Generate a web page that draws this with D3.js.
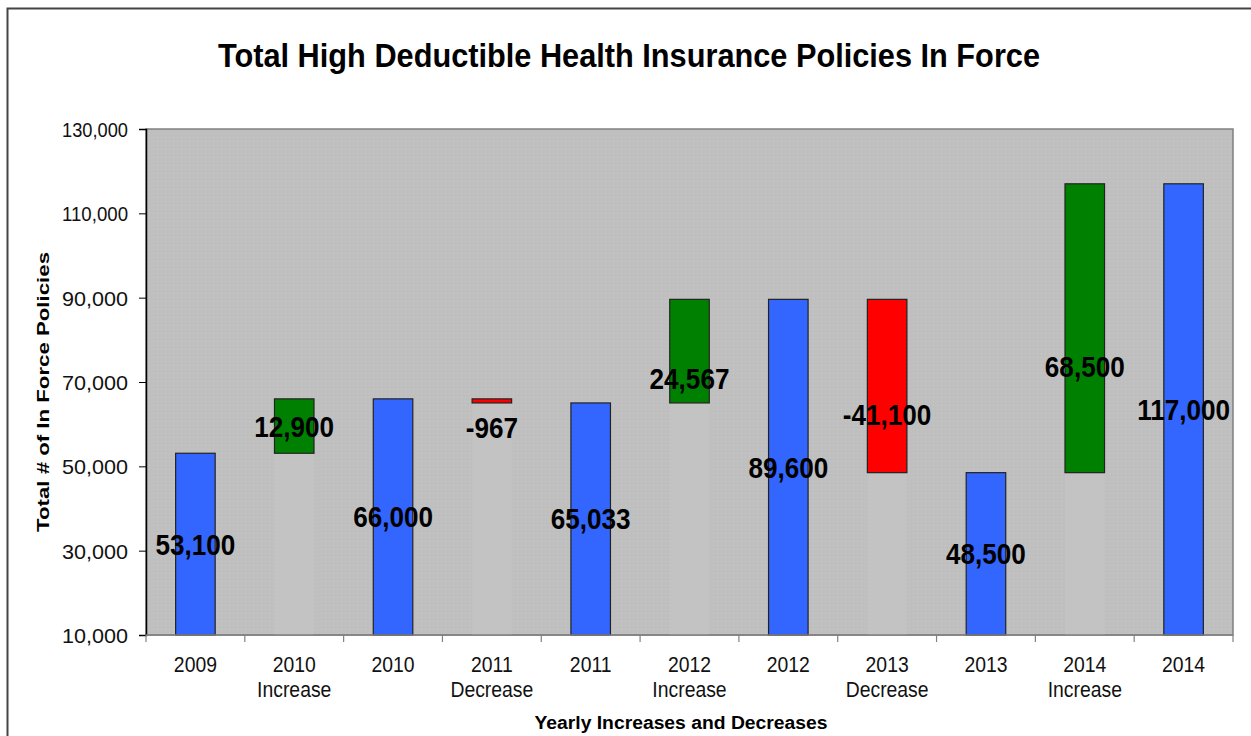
<!DOCTYPE html>
<html><head><meta charset="utf-8">
<script src="https://cdn.jsdelivr.net/npm/d3@7"></script>
<style>body{margin:0;background:#fff}svg{display:block}</style>
</head><body>
<svg id="c" width="1251" height="736"></svg>
<script>
const categories = ["2009","2010\nIncrease","2010","2011\nDecrease","2011","2012\nIncrease","2012","2013\nDecrease","2013","2014\nIncrease","2014"];
const kinds = ["total","increase","total","decrease","total","increase","total","decrease","total","increase","total"];
const baseValues = [0,53100,0,65033,0,65033,0,48500,0,48500,0];
const barValues = [53100,12900,66000,967,65033,24567,89600,41100,48500,68500,117000];
const labels = ["53,100","12,900","66,000","-967","65,033","24,567","89,600","-41,100","48,500","68,500","117,000"];
const labelAt = [31550,59550,38000,59100,37500,70900,49800,62200,29250,73600,63500];
const yTicks = [10000,30000,50000,70000,90000,110000,130000];

const svg = d3.select("#c");
const m = {l:146, t:129, r:1233, b:635};
const x = d3.scaleBand().domain(d3.range(categories.length)).range([m.l, m.r]).paddingInner(0.6).paddingOuter(0.3);
const xb = d3.scaleBand().domain(d3.range(categories.length)).range([m.l, m.r]);
const y = d3.scaleLinear().domain([10000,130000]).range([m.b, m.t]);
const colors = {total:"#3366ff", increase:"#008000", decrease:"#ff0000"};
const FONT = "Liberation Sans, Arial, sans-serif";

function condense(sel, f){
  sel.each(function(){
    const w = this.getComputedTextLength();
    d3.select(this).attr("textLength", w*f).attr("lengthAdjust","spacingAndGlyphs");
  });
}

// outer border
svg.append("rect").attr("x",7.5).attr("y",8.5).attr("width",1260).attr("height",760)
  .attr("fill","#fff").attr("stroke","#444").attr("stroke-width",2);

// title
svg.append("text").attr("x",629).attr("y",67).attr("text-anchor","middle")
  .attr("font-family",FONT).attr("font-weight","bold").attr("font-size",34)
  .attr("textLength",822).attr("lengthAdjust","spacingAndGlyphs")
  .text("Total High Deductible Health Insurance Policies In Force");

// plot bg
const defs = svg.append("defs");
const pat = defs.append("pattern").attr("id","dots").attr("width",4).attr("height",4).attr("patternUnits","userSpaceOnUse");
pat.append("rect").attr("width",4).attr("height",4).attr("fill","#bfbfbf");
pat.append("rect").attr("x",1).attr("y",1).attr("width",1).attr("height",1).attr("fill","#c9c9c9");
svg.append("rect").attr("x",m.l).attr("y",m.t).attr("width",m.r-m.l).attr("height",m.b-m.t)
  .attr("fill","url(#dots)").attr("stroke","#808080").attr("stroke-width",1.5);

// invisible base bars (slightly lighter)
const baseIdx = d3.range(baseValues.length).filter(i=>baseValues[i]>0);
svg.selectAll(".base").data(baseIdx).join("rect").attr("class","base")
  .attr("x",i=>x(i)).attr("y",i=>y(baseValues[i]))
  .attr("width",x.bandwidth()).attr("height",i=>y(10000)-y(baseValues[i]))
  .attr("fill","#c3c3c3");

// bars
svg.selectAll(".bar").data(barValues).join("rect").attr("class","bar")
  .attr("x",(d,i)=>x(i))
  .attr("y",(d,i)=>y(baseValues[i]+d))
  .attr("width",x.bandwidth())
  .attr("height",(d,i)=> y(Math.max(baseValues[i],10000))-y(baseValues[i]+d))
  .attr("fill",(d,i)=>colors[kinds[i]]).attr("stroke","#222").attr("stroke-width",1.2);

// y axis
const ya = svg.append("g").attr("transform",`translate(${m.l},0)`)
  .call(d3.axisLeft(y).tickValues(yTicks).tickSize(7).tickPadding(11).tickFormat(d3.format(",")));
ya.select(".domain").attr("stroke","#000").attr("stroke-width",1.5);
ya.selectAll(".tick line").attr("stroke","#000");
ya.selectAll(".tick text").attr("font-family",FONT)
  .attr("font-size",21).attr("fill","#111").attr("dy","0.35em")
  .attr("textLength",66).attr("lengthAdjust","spacingAndGlyphs");

// x axis ticks at band boundaries
const xa = svg.append("g");
xa.append("line").attr("x1",m.l).attr("x2",m.r).attr("y1",m.b).attr("y2",m.b).attr("stroke","#808080").attr("stroke-width",1.5);
xa.selectAll(".xt").data(d3.range(categories.length+1)).join("line")
  .attr("x1",i=>i<categories.length?xb(i):m.r).attr("x2",i=>i<categories.length?xb(i):m.r)
  .attr("y1",m.b).attr("y2",m.b+7).attr("stroke","#808080").attr("stroke-width",1.2);
categories.forEach((c,i)=>{
  c.split("\n").forEach((s,k)=>{
    xa.append("text").attr("class","xl")
      .attr("x",xb(i)+xb.bandwidth()/2).attr("y",672+k*25).attr("text-anchor","middle")
      .attr("font-family",FONT).attr("font-size",22).attr("fill","#111").text(s);
  });
});
condense(xa.selectAll(".xl"),0.88);

// axis titles
svg.append("text").attr("x",681).attr("y",729).attr("text-anchor","middle")
  .attr("font-family",FONT).attr("font-weight","bold").attr("font-size",18)
  .attr("textLength",293).attr("lengthAdjust","spacingAndGlyphs")
  .text("Yearly Increases and Decreases");
svg.append("text").attr("transform","translate(49,392) rotate(-90)").attr("text-anchor","middle")
  .attr("font-family",FONT).attr("font-weight","bold").attr("font-size",17)
  .attr("textLength",280).attr("lengthAdjust","spacingAndGlyphs")
  .text("Total # of In Force Policies");

// data labels
const lbl = svg.selectAll(".lbl").data(labels).join("text").attr("class","lbl")
  .attr("x",(d,i)=>x(i)+x.bandwidth()/2).attr("y",(d,i)=>y(labelAt[i]))
  .attr("dy","0.36em").attr("text-anchor","middle")
  .attr("font-family",FONT).attr("font-weight","bold").attr("font-size",29)
  .attr("fill","#000").text(d=>d);
condense(lbl,0.9);
</script>
</body></html>
